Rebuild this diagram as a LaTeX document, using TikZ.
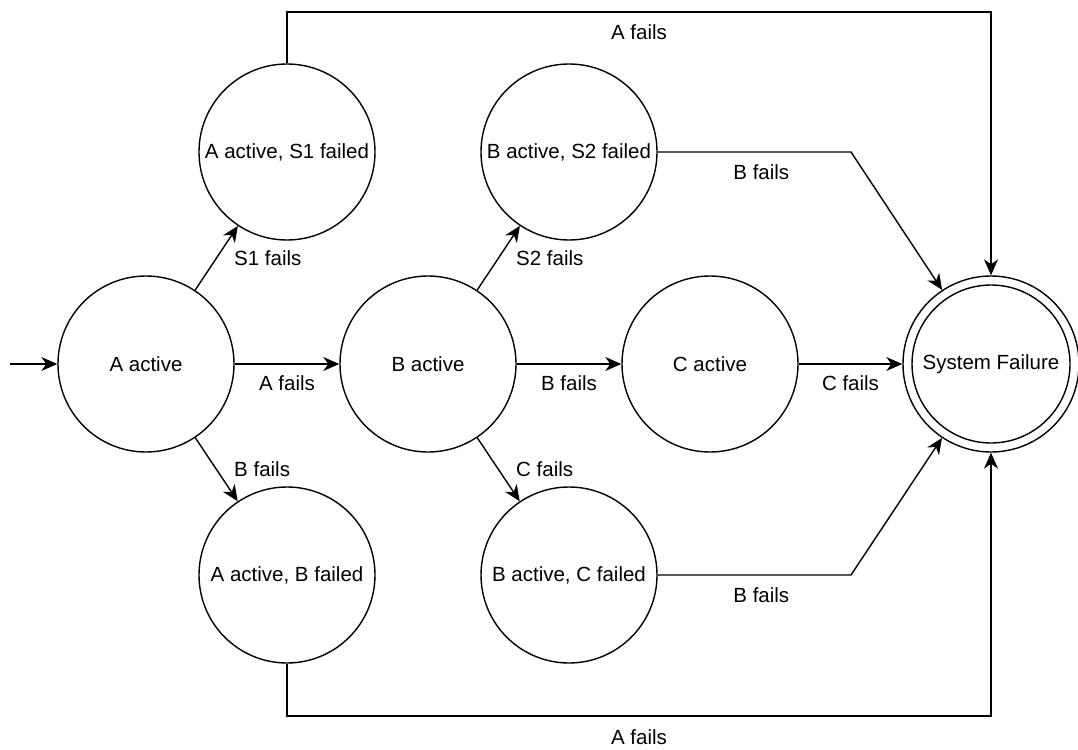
\documentclass[tikz,border=0pt]{standalone}
\usepackage{fontspec}
\setmainfont{Liberation Sans}
\usetikzlibrary{arrows.meta}
\begin{document}
\begin{tikzpicture}[x=1pt,y=-1pt,
  state/.style={draw, circle, minimum size=176pt, inner sep=0pt, line width=1.4pt,
                font=\fontsize{20.5}{24}\selectfont},
  arr/.style={line width=1.4pt, -{Stealth[length=16pt,width=14pt,inset=5pt]}},
  lbl/.style={font=\fontsize{20.5}{24}\selectfont, inner sep=0pt},
]
\useasboundingbox (0,0) rectangle (1078,749);

% states
\node[state] (a)  at (146,364) {A active};
\node[state] (s1) at (287,152) {A active, S1 failed};
\node[state] (ab) at (287,575) {A active, B failed};
\node[state] (b)  at (428,364) {B active};
\node[state] (s2) at (569,152) {B active, S2 failed};
\node[state] (bc) at (569,575) {B active, C failed};
\node[state] (c)  at (710,364) {C active};
\node[state] (sf) at (991,364) {System Failure};
\draw[line width=1.4pt] (sf.center) circle (79pt);

% bend points
\coordinate (init) at (10,364);
\coordinate (topc) at (991,12);
\coordinate (botc) at (991,716);
\coordinate (k1) at (851,152);
\coordinate (k2) at (851,575);

% transitions
\draw[arr] (init) -- (a);
\draw[arr] (a) -- (b) node[lbl, midway, yshift=-19pt] {A fails};
\draw[arr] (a) -- (s1) node[lbl, midway, anchor=west, xshift=17pt] {S1 fails};
\draw[arr] (a) -- (ab) node[lbl, midway, anchor=west, xshift=17pt] {B fails};
\draw[arr] (b) -- (c) node[lbl, midway, yshift=-19pt] {B fails};
\draw[arr] (b) -- (s2) node[lbl, midway, anchor=west, xshift=17pt] {S2 fails};
\draw[arr] (b) -- (bc) node[lbl, midway, anchor=west, xshift=17pt] {C fails};
\draw[arr] (c) -- (sf) node[lbl, midway, yshift=-19pt] {C fails};
\draw[arr] (s2.east) -- (k1) node[lbl, pos=0.536, yshift=-20pt] {B fails} -- (sf);
\draw[arr] (bc.east) -- (k2) node[lbl, pos=0.536, yshift=-20pt] {B fails} -- (sf);
\draw[arr] (s1.north) |- (topc) node[lbl, pos=0.75, yshift=-20pt] {A fails} -- (sf);
\draw[arr] (ab.south) |- (botc) node[lbl, pos=0.75, yshift=-21pt] {A fails} -- (sf);
\end{tikzpicture}
\end{document}
